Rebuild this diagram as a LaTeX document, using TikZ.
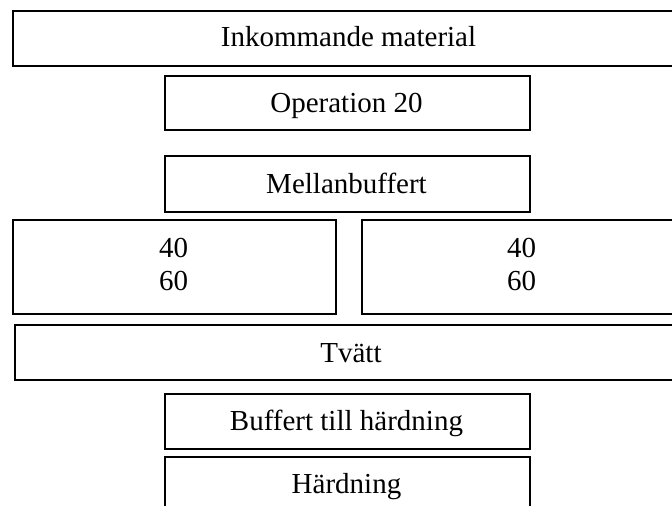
\documentclass[tikz,border=0pt]{standalone}
\usepackage{fontspec}
\setmainfont{Liberation Serif}
\begin{document}
\begin{tikzpicture}[x=1pt,y=-1pt,
  box/.style={draw=black, line width=1.8pt, rectangle, inner sep=0pt, anchor=north west},
  lbl/.style={anchor=base, inner sep=0pt, font=\fontsize{29}{33}\selectfont}]
  \useasboundingbox (0,0) rectangle (672,506);
  \clip (0,0) rectangle (672,506);
  \fill[white] (0,0) rectangle (672,506);
  % process boxes, top to bottom
  \node[box, minimum width=673pt, minimum height=55pt] (inc) at (12,10) {};
  \node[box, minimum width=365pt, minimum height=54pt] (op) at (164,75) {};
  \node[box, minimum width=365pt, minimum height=56pt] (mb) at (164,155) {};
  \node[box, minimum width=323pt, minimum height=94pt] (ml) at (12,219) {};
  \node[box, minimum width=321pt, minimum height=94pt] (mr) at (361,219) {};
  \node[box, minimum width=674pt, minimum height=55pt] (tv) at (14,324) {};
  \node[box, minimum width=365pt, minimum height=55pt] (bh) at (164,393) {};
  \node[box, minimum width=365pt, minimum height=70pt] (hd) at (164,456) {};
  % labels
  \node[lbl] (tinc) at (348.5,46) {Inkommande material};
  \node[lbl] (top) at (346.5,112) {Operation 20};
  \node[lbl] (tmb) at (346.5,193) {Mellanbuffert};
  \node[lbl] (tml1) at (173.5,257) {40};
  \node[lbl] (tml2) at (173.5,290) {60};
  \node[lbl] (tmr1) at (521.5,257) {40};
  \node[lbl] (tmr2) at (521.5,290) {60};
  \node[lbl] (ttv) at (351,362) {Tvätt};
  \node[lbl] (tbh) at (346.5,430) {Buffert till härdning};
  \node[lbl] (thd) at (346.5,493) {Härdning};
\end{tikzpicture}
\end{document}
